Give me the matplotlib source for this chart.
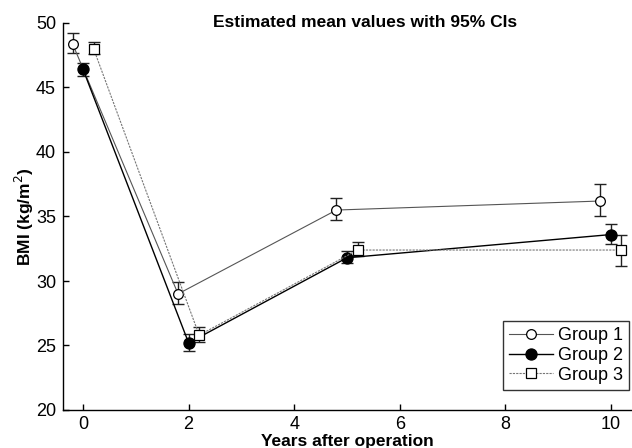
import numpy as np
import matplotlib
matplotlib.use("Agg")
import matplotlib.pyplot as plt

plt.rcParams['font.family'] = ['Liberation Sans', 'DejaVu Sans']

# years after operation (each group shifted a little so bars don't overlap)
years = np.array([0, 2, 5, 10])
offsets = [-0.2, 0.0, 0.2]
labels = ["Group 1", "Group 2", "Group 3"]

# estimated means and 95% CI bounds
g1_mean = [48.4, 29.0, 35.5, 36.2]
g1_low = [47.7, 28.2, 34.7, 35.0]
g1_high = [49.2, 29.9, 36.4, 37.5]

g2_mean = [46.4, 25.2, 31.8, 33.6]
g2_low = [45.9, 24.6, 31.4, 32.9]
g2_high = [46.9, 25.9, 32.3, 34.4]

g3_mean = [48.0, 25.8, 32.4, 32.4]
g3_low = [47.6, 25.3, 31.9, 31.2]
g3_high = [48.5, 26.4, 33.0, 33.6]

means = [g1_mean, g2_mean, g3_mean]
lows = [g1_low, g2_low, g3_low]
highs = [g1_high, g2_high, g3_high]

# style per group: line colour, line style, marker, marker face
styles = [
    dict(color="#555555", ls="-", lw=0.8, marker="o", mfc="white", ms=7),
    dict(color="black", ls="-", lw=1.0, marker="o", mfc="black", ms=8),
    dict(color="#777777", ls=(0, (2, 1)), lw=0.8, marker="s", mfc="white", ms=6.5),
]

fig = plt.figure(figsize=(6.32, 4.48), dpi=100)
ax = fig.add_axes([63 / 632, 1 - 410 / 448, (632 - 63) / 632, (410 - 23) / 448])

for m, lo, hi, lab, st, off in zip(means, lows, highs, labels, styles, offsets):
    m = np.array(m)
    yerr = [m - np.array(lo), np.array(hi) - m]
    x = years + off
    ax.errorbar(x, m, yerr=yerr, fmt="none", ecolor="#222222", elinewidth=1.0,
                capsize=4, capthick=1.0, zorder=2)
    ax.plot(x, m, color=st["color"], ls=st["ls"], lw=st["lw"], marker=st["marker"],
            mfc=st["mfc"], mec="black", mew=0.9, ms=st["ms"], label=lab, zorder=3)

ax.set_xlim(-0.38, 10.4)
ax.set_ylim(20, 50)
ax.set_xticks([0, 2, 4, 6, 8, 10])
ax.set_yticks([20, 25, 30, 35, 40, 45, 50])
ax.tick_params(direction="in", length=4, width=1, labelsize=13)
ax.tick_params(axis="x", pad=4)
ax.tick_params(axis="y", pad=5)
ax.spines["top"].set_visible(False)
ax.spines["right"].set_visible(False)
for s in ("left", "bottom"):
    ax.spines[s].set_linewidth(1.0)

ax.set_title("Estimated mean values with 95% CIs", fontsize=12.5, fontweight="bold",
             x=0.53, y=0.99, pad=0)
ax.set_xlabel("Years after operation", fontsize=12.5, fontweight="bold", labelpad=1)
ax.set_ylabel("BMI (kg/m$^2$)", fontsize=12.5, fontweight="bold", labelpad=0)

leg = ax.legend(loc="upper left", bbox_to_anchor=(503 / 632, 1 - 321 / 448),
                bbox_transform=fig.transFigure, borderaxespad=0, fontsize=13,
                frameon=True, fancybox=False, edgecolor="black", handlelength=2.4,
                borderpad=0.35, labelspacing=0.15, handletextpad=0.3)
leg.get_frame().set_linewidth(1.0)

fig.savefig("out.png", dpi=100)
